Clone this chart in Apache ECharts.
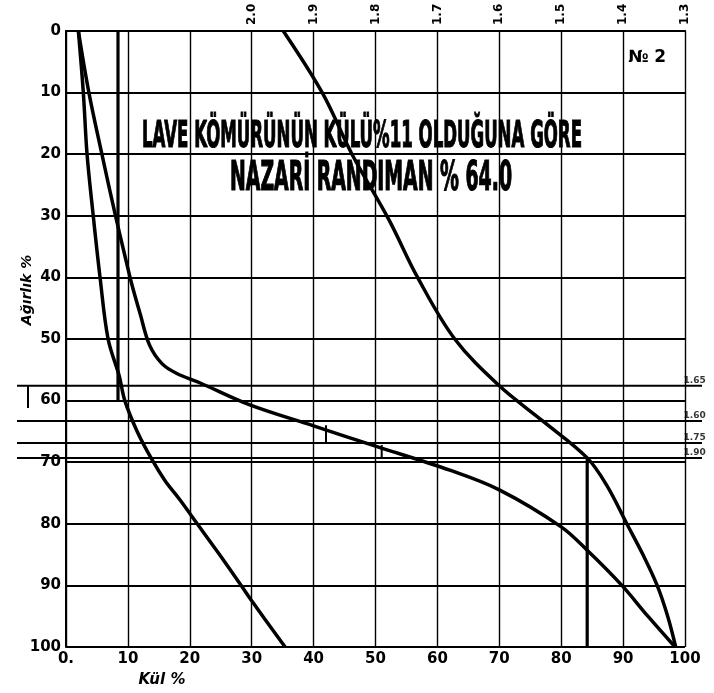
<!DOCTYPE html>
<html><head><meta charset="utf-8">
<script src="https://cdn.jsdelivr.net/npm/echarts@6/dist/echarts.min.js"></script>
<style>html,body{margin:0;padding:0;background:#fff}#c{width:714px;height:693px}</style>
</head><body><div id="c"></div>
<script>
// ---- data ----
const floatsAsh = [[2,0],[2.8,10],[3.4,20],[4.4,30],[5.5,40],[6.8,50],[8.6,56],[9.5,60],[11.5,65],[13.9,69.6],[16,73],[18.4,76.1],[21.2,80],[24.8,85],[28.3,90],[30,92.5],[35.4,100]];
const characteristic = [[2,0],[3.7,10],[5.8,20],[8.0,30],[9.4,36],[10.6,41],[12.0,46],[13.5,51],[15.5,54],[17.9,55.6],[21.6,57.1],[29.7,60.7],[40,64.1],[50,67.4],[62,71.3],[70,74.5],[80,80.5],[84.2,84.3],[89.8,90],[94,95],[98.4,100]];
const gravityCurve = [[35.1,0],[41.5,10.2],[46.2,20],[52.2,30.7],[56.8,40],[62.8,50],[70,57.6],[77,63.3],[84.2,69.3],[87.5,74],[90.6,80],[93.2,85],[95.5,90],[97.2,95],[98.5,100]];
const cutLine1 = [[8.4,0],[8.4,60]];
const cutLine2 = [[84.2,69.3],[84.2,100]];
const curveTicks = [[[42,64],[42,66.9]],[[51,67.2],[51,69.3]]];
const gravityLevels = [57.6,63.3,66.9,69.3];
const gravityLevelLabels = ['1.65','1.60','1.75','1.90'];
const topTickValues = [30,40,50,60,70,80,90,100];
const topTickLabels = ['2.0','1.9','1.8','1.7','1.6','1.5','1.4','1.3'];
const titleLines = ['LAVE KÖMÜRÜNÜN KÜLÜ%11 OLDUĞUNA GÖRE','NAZARİ RANDIMAN % 64.0'];
const sheetNo = '№ 2';
const xName = 'Kül %';
const yName = 'Ağırlık %';

// ---- layout ----
const G = {left:66, right:29, top:31, bottom:46};
const plotW = 714 - G.left - G.right;
const pxPerUnit = plotW / 100;
const wideLeftPx = 17, wideRightPx = 702;
const wideMin = (wideLeftPx - G.left) / pxPerUnit;
const wideMax = (wideRightPx - G.left) / pxPerUnit;

const chart = echarts.init(document.getElementById('c'), null, {renderer:'canvas'});
const black = '#000';
const fontFam = '"DejaVu Sans", "Liberation Sans", sans-serif';
const condFam = '"DejaVu Sans Condensed", "Liberation Sans Narrow", "DejaVu Sans", sans-serif';

function fitText(text, font, targetW) {
  const ctx = document.createElement('canvas').getContext('2d');
  ctx.font = font;
  return targetW / ctx.measureText(text).width;
}
const t1Font = 'bold 38px ' + condFam;
const t2Font = 'bold 40px ' + condFam;

const series = [];
const curveStyle = (w) => ({color:black, width:w, type:'solid'});
[floatsAsh, characteristic, gravityCurve].forEach(d => series.push({
  type:'line', xAxisIndex:0, yAxisIndex:0, data:d, showSymbol:false, smooth:0.35,
  lineStyle:curveStyle(3.5), silent:true, z:5
}));
[cutLine1, cutLine2].forEach(d => series.push({
  type:'line', xAxisIndex:0, yAxisIndex:0, data:d, showSymbol:false,
  lineStyle:curveStyle(3.2), silent:true, z:5
}));
curveTicks.forEach(d => series.push({
  type:'line', xAxisIndex:0, yAxisIndex:0, data:d, showSymbol:false,
  lineStyle:curveStyle(2), silent:true, z:5
}));
gravityLevels.forEach((y, i) => series.push({
  type:'line', xAxisIndex:2, yAxisIndex:2, data:[[wideMin, y],[wideMax, y]], showSymbol:false,
  lineStyle:curveStyle(2), silent:true, z:4
}));
series.push({
  type:'scatter', xAxisIndex:2, yAxisIndex:2, symbolSize:0, silent:true,
  data: gravityLevels.map((y, i) => ({value:[wideMax - 1.2, y], name:gravityLevelLabels[i]})),
  label:{show:true, position:'top', distance:1, formatter:p => p.name,
    fontFamily:fontFam, fontWeight:'bold', fontSize:9, color:black}
});
series.push({
  type:'line', xAxisIndex:2, yAxisIndex:2, data:[[(28 - G.left)/pxPerUnit, 57.6],[(28 - G.left)/pxPerUnit, 61.2]],
  showSymbol:false, lineStyle:curveStyle(2), silent:true
});

const option = {
  backgroundColor:'#fff',
  animation:false,
  grid:[
    {left:G.left, right:G.right, top:G.top, bottom:G.bottom},
    {left:wideLeftPx, right:714 - wideRightPx, top:G.top, bottom:G.bottom}
  ],
  xAxis:[
    {type:'value', gridIndex:0, position:'bottom', min:0, max:100, interval:10,
     axisLine:{show:true, lineStyle:{color:black, width:2}},
     axisTick:{show:false},
     axisLabel:{color:black, fontFamily:fontFam, fontWeight:'bold', fontSize:15, margin:5,
       formatter:v => v === 0 ? '0.' : String(v)},
     splitLine:{show:true, lineStyle:{color:black, width:1.4}}},
    {type:'value', gridIndex:0, position:'top', min:0, max:100, interval:10,
     axisLine:{show:true, lineStyle:{color:black, width:2}},
     axisTick:{show:false},
     axisLabel:{color:black, fontFamily:fontFam, fontWeight:'bold', fontSize:12, margin:6, rotate:90,
       formatter:v => { const i = topTickValues.indexOf(v); return i >= 0 ? topTickLabels[i] : ''; }},
     splitLine:{show:false}},
    {type:'value', gridIndex:1, min:wideMin, max:wideMax, show:false}
  ],
  yAxis:[
    {type:'value', gridIndex:0, min:0, max:100, interval:10, inverse:true,
     axisLine:{show:true, lineStyle:{color:black, width:2}},
     axisTick:{show:false},
     axisLabel:{color:black, fontFamily:fontFam, fontWeight:'bold', fontSize:15, margin:5},
     splitLine:{show:true, lineStyle:{color:black, width:2}}},
    {type:'value', gridIndex:0, min:0, max:100, inverse:true, position:'right', show:false},
    {type:'value', gridIndex:1, min:0, max:100, inverse:true, show:false}
  ],
  graphic:[
    {type:'text', x:142, y:137, scaleX:fitText(titleLines[0], t1Font, 440), z:10,
     style:{text:titleLines[0], font:t1Font, fill:black, stroke:black, lineWidth:1.2, textAlign:'left', textVerticalAlign:'middle'}},
    {type:'text', x:230, y:180, scaleX:fitText(titleLines[1], t2Font, 282), z:10,
     style:{text:titleLines[1], font:t2Font, fill:black, stroke:black, lineWidth:1.2, textAlign:'left', textVerticalAlign:'middle'}},
    {type:'text', x:647, y:58, z:10,
     style:{text:sheetNo, font:'bold 17px ' + fontFam, fill:black, textAlign:'center', textVerticalAlign:'middle'}},
    {type:'text', x:162, y:680, z:10,
     style:{text:xName, font:'italic bold 15px ' + fontFam, fill:black, textAlign:'center', textVerticalAlign:'middle'}},
    {type:'text', x:27, y:290, rotation:Math.PI/2, z:10,
     style:{text:yName, font:'italic bold 14px ' + fontFam, fill:black, textAlign:'center', textVerticalAlign:'middle'}}
  ],
  series:series
};
chart.setOption(option);
</script>
</body></html>
